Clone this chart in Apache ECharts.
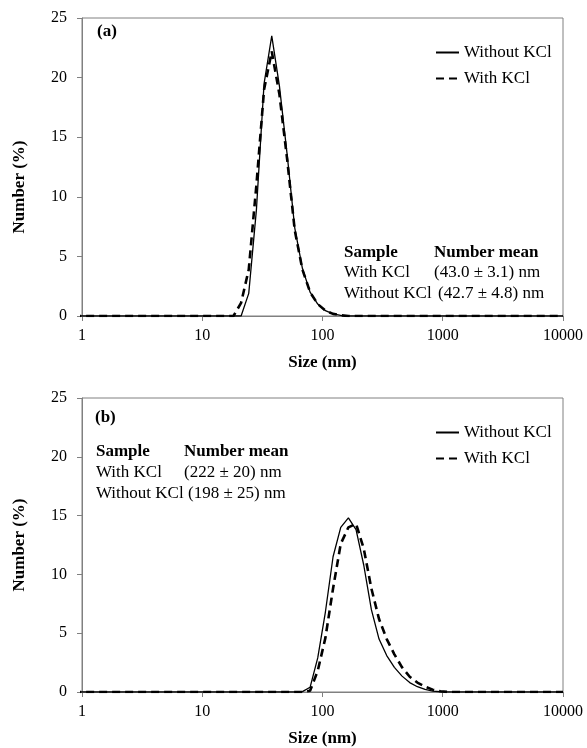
<!DOCTYPE html>
<html>
<head>
<meta charset="utf-8">
<script src="https://cdn.jsdelivr.net/npm/echarts@6/dist/echarts.min.js"></script>
<style>html,body{margin:0;padding:0;background:#fff}#c{width:587px;height:748px}</style>
</head>
<body>
<div id="c"></div>
<script>
// Size bins (nm), log spaced
const sizes = [0.4,0.4632,0.5365,0.6213,0.7195,0.8332,0.9649,1.117,1.294,1.499,1.736,2.01,2.328,2.696,3.122,3.615,4.187,4.849,5.615,6.503,7.531,8.721,10.1,11.7,13.54,15.69,18.17,21.04,24.36,28.21,32.67,37.84,43.82,50.75,58.77,68.06,78.82,91.28,105.7,122.4,141.8,164.2,190.1,220.2,255,295.3,342,396.1,458.7,531.2,615.1,712.4,825,955.4,1106,1281,1484,1718,1990,2305,2669,3091,3580,4145,4801,5560,6439,7456,8635,10000];
// Panel (a)
const withoutKClA = [0,0,0,0,0,0,0,0,0,0,0,0,0,0,0,0,0,0,0,0,0,0,0,0,0,0,0,0,1.9,8.9,19.5,23.5,19.3,13.6,7.4,4.0,2.0,1.0,0.45,0.18,0.06,0,0,0,0,0,0,0,0,0,0,0,0,0,0,0,0,0,0,0,0,0,0,0,0,0,0,0,0,0];
const withKClA    = [0,0,0,0,0,0,0,0,0,0,0,0,0,0,0,0,0,0,0,0,0,0,0,0,0,0,0,1.1,3.9,11.0,19.0,22.2,18.6,13.2,7.2,3.9,2.0,1.0,0.45,0.18,0.06,0,0,0,0,0,0,0,0,0,0,0,0,0,0,0,0,0,0,0,0,0,0,0,0,0,0,0,0,0];
// Panel (b)
const withoutKClB = [0,0,0,0,0,0,0,0,0,0,0,0,0,0,0,0,0,0,0,0,0,0,0,0,0,0,0,0,0,0,0,0,0,0,0,0.03,0.4,2.9,6.8,11.5,14.0,14.8,13.8,10.8,7.0,4.5,3.1,2.1,1.35,0.8,0.45,0.22,0.08,0.02,0,0,0,0,0,0,0,0,0,0,0,0,0,0,0,0];
const withKClB    = [0,0,0,0,0,0,0,0,0,0,0,0,0,0,0,0,0,0,0,0,0,0,0,0,0,0,0,0,0,0,0,0,0,0,0,0,0.1,1.8,4.6,8.8,12.6,14.0,14.3,12.2,8.8,6.2,4.5,3.2,2.1,1.3,0.8,0.45,0.2,0.06,0,0,0,0,0,0,0,0,0,0,0,0,0,0,0,0];
const xTickLabels = ['1','10','100','1000','10000'];
const yTicks = [0,5,10,15,20,25];
const seriesNames = ['Without KCl','With KCl'];
const statsA = [['Sample','Number mean'],['With KCl','(43.0 \u00b1 3.1) nm'],['Without KCl','(42.7 \u00b1 4.8) nm']];
const statsB = [['Sample','Number mean'],['With KCl','(222 \u00b1 20) nm'],['Without KCl','(198 \u00b1 25) nm']];

const FF = '"Liberation Serif","Times New Roman",serif';
const GREY = '#808080';
const pairs = (vals) => sizes.map((s,i)=>[s, vals[i]]);

function xAxis(gi){
  return {
    type:'log', logBase:10, gridIndex:gi, min:1, max:10000,
    name:'Size (nm)', nameLocation:'middle', nameGap:38,
    nameTextStyle:{fontFamily:FF, fontSize:17, fontWeight:'bold', color:'#000'},
    axisLine:{lineStyle:{color:GREY, width:1}},
    axisTick:{show:true, inside:false, length:5, lineStyle:{color:GREY}},
    minorTick:{show:false},
    splitLine:{show:false},
    axisLabel:{fontFamily:FF, fontSize:16, color:'#000', margin:12,
      formatter:(v)=>{const k=Math.round(Math.log10(v)); return xTickLabels[k]!==undefined?xTickLabels[k]:'';}}
  };
}
function yAxis(gi, pad){
  return {
    type:'value', gridIndex:gi, min:yTicks[0], max:yTicks[yTicks.length-1], interval:5,
    name:'Number (%)', nameLocation:'middle', nameGap:54,
    nameTextStyle:{fontFamily:FF, fontSize:17, fontWeight:'bold', color:'#000', padding:pad},
    axisLine:{show:true, lineStyle:{color:GREY, width:1}},
    axisTick:{show:true, inside:false, length:5, lineStyle:{color:GREY}},
    splitLine:{show:false},
    axisLabel:{fontFamily:FF, fontSize:16, color:'#000', margin:15}
  };
}
function lineSeries(name, vals, xi, dashed){
  return {
    type:'line', name:name, xAxisIndex:xi, yAxisIndex:xi, data:pairs(vals),
    showSymbol:false, symbol:'none', smooth:false, clip:true,
    lineStyle: dashed ? {color:'#000', width:2.6, type:[8,5]} : {color:'#000', width:1.3, type:'solid'},
    itemStyle:{color:'#000'}, z: dashed?3:4
  };
}
function legend(top){
  return {
    data:seriesNames, orient:'vertical', left:430, top:top, itemWidth:23, itemHeight:14, itemGap:9,
    itemStyle:{opacity:0}, lineStyle:{inactiveWidth:0},
    textStyle:{fontFamily:FF, fontSize:17, color:'#000'}, selectedMode:false
  };
}
function txt(x,y,t,bold){
  return {type:'text', x:x, y:y, style:{text:t, fontFamily:FF, fontSize:17, fontWeight:bold?'bold':'normal', fill:'#000', verticalAlign:'middle', align:'left'}};
}
const graphics = [
  txt(97,32,'(a)',true),
  txt(95,418,'(b)',true),
];
const rowA = [253,273,294];
statsA.forEach((r,i)=>{ graphics.push(txt(344,rowA[i],r[0],i===0)); graphics.push(txt(i===2?438:434,rowA[i],r[1],i===0)); });
const rowB = [452,473,494];
statsB.forEach((r,i)=>{ graphics.push(txt(96,rowB[i],r[0],i===0)); graphics.push(txt(i===2?188:184,rowB[i],r[1],i===0)); });

const chart = echarts.init(document.getElementById('c'), null, {renderer:'canvas'});
chart.setOption({
  backgroundColor:'#fff',
  animation:false,
  grid:[
    {left:82, top:18, width:481, height:298, show:true, borderColor:GREY, borderWidth:1},
    {left:82, top:398, width:481, height:298, show:true, borderColor:GREY, borderWidth:1}
  ],
  xAxis:[xAxis(0), xAxis(1)],
  yAxis:[yAxis(0,[0,40,0,0]), yAxis(1,[0,0,0,0])],
  legend:[legend(39), legend(419)],
  series:[
    lineSeries('Without KCl', withoutKClA, 0, false),
    lineSeries('With KCl', withKClA, 0, true),
    lineSeries('Without KCl', withoutKClB, 1, false),
    lineSeries('With KCl', withKClB, 1, true)
  ],
  graphic:graphics
});
</script>
</body>
</html>
